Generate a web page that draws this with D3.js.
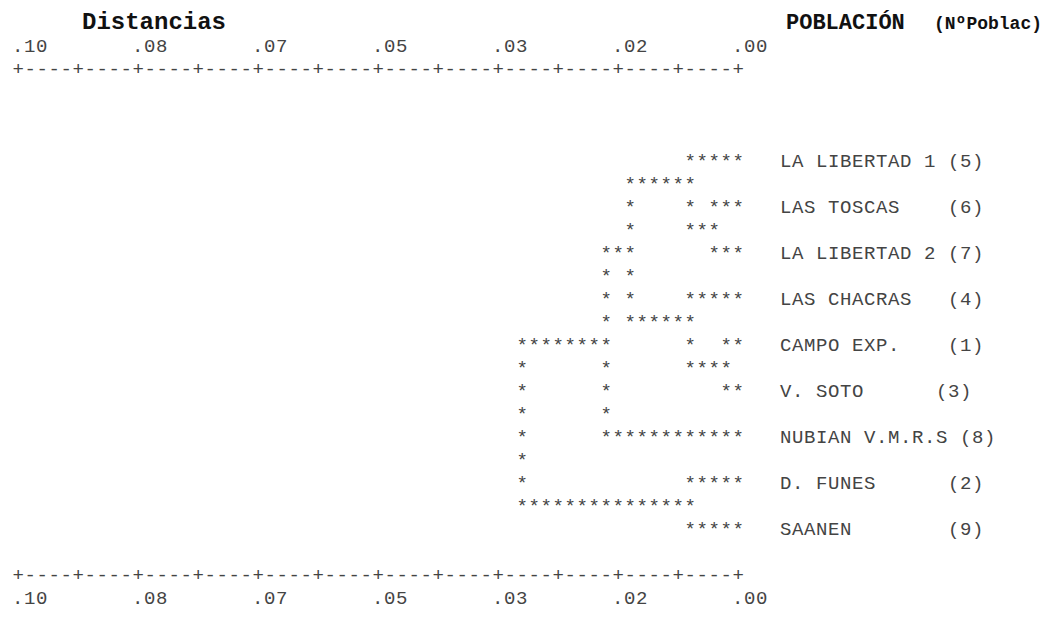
<!DOCTYPE html>
<html>
<head>
<meta charset="utf-8">
<script src="https://cdn.jsdelivr.net/npm/d3@7"></script>
<style>
  html, body { margin: 0; padding: 0; background: #fff; }
  svg { display: block; }
  text { font-family: "Liberation Mono", "Courier New", monospace; }
</style>
</head>
<body>
<svg id="chart" width="1047" height="624"></svg>
<script>
// Populations, top to bottom, as printed beside the tree
const poblaciones = [
  "LA LIBERTAD 1 (5)",
  "LAS TOSCAS    (6)",
  "LA LIBERTAD 2 (7)",
  "LAS CHACRAS   (4)",
  "CAMPO EXP.    (1)",
  "V. SOTO      (3)",
  "NUBIAN V.M.R.S (8)",
  "D. FUNES      (2)",
  "SAANEN        (9)"
];

// Agglomeration steps: nodes 0-8 are the populations above,
// each step creates node 9, 10, 11, ... joining unirA[k] with unirB[k]
const unirA     = [1, 4, 0, 3, 7, 11, 14, 15];
const unirB     = [2, 5, 9, 10, 8, 12, 6, 13];
const distancia = [0.003, 0.002, 0.007, 0.007, 0.007, 0.015, 0.018, 0.030];

// Distance scale ticks
const marcas          = [0.10, 0.083, 0.067, 0.05, 0.033, 0.017, 0.00];
const etiquetasMarcas = [".10", ".08", ".07", ".05", ".03", ".02", ".00"];

const svg = d3.select("#chart");

// Character grid: 61 columns for distance, one text line every 23px
const NCOL = 60;
const colDeDistancia = d3.scaleLinear().domain([0.10, 0]).range([0, NCOL]);
const xCol = d3.scaleLinear().domain([0, NCOL]).range([12, 12 + 12 * NCOL]);
const yLinea = d3.scaleLinear().domain([0, 1]).range([29, 52]);
const colEtiqueta = 64;
const lineaPrimera = 6;

const ink = "#444";
const fs = "19px";
const spacing = "0.6px"; // keeps the 12px character cell at 19px

// Titles
svg.append("text").attr("x", 82).attr("y", yLinea(0))
  .attr("font-size", "24px").attr("font-weight", "bold").attr("fill", "#111")
  .text("Distancias");
svg.append("text").attr("x", 786).attr("y", yLinea(0))
  .attr("font-size", "22px").attr("font-weight", "bold").attr("fill", "#111")
  .text("POBLACIÓN");
svg.append("text").attr("x", 934).attr("y", yLinea(0))
  .attr("font-size", "18px").attr("font-weight", "bold").attr("fill", "#111")
  .text("(NºPoblac)");

// Build the star tree on the character grid
const celdas = new Map();
const marcar = (l, c) => celdas.set(l + "," + c, { l, c });
const fila = [], inicio = [];
poblaciones.forEach((p, i) => { fila[i] = lineaPrimera + 2 * i; inicio[i] = NCOL; });

unirA.forEach((a, k) => {
  const b = unirB[k];
  const m = Math.round(colDeDistancia(distancia[k]));
  [a, b].forEach(n => { for (let c = m; c <= inicio[n]; c++) marcar(fila[n], c); });
  for (let l = fila[a]; l <= fila[b]; l++) marcar(l, m);
  const nuevo = poblaciones.length + k;
  fila[nuevo] = Math.floor((fila[a] + fila[b]) / 2);
  inicio[nuevo] = m;
});

svg.append("g").selectAll("text").data(Array.from(celdas.values())).join("text")
  .attr("x", d => xCol(d.c) + 0.5).attr("y", d => yLinea(d.l))
  .attr("font-size", fs).attr("fill", ink)
  .text("*");

// Population labels
svg.append("g").selectAll("text").data(poblaciones).join("text")
  .attr("x", xCol(colEtiqueta)).attr("y", (d, i) => yLinea(lineaPrimera + 2 * i))
  .attr("font-size", fs).attr("fill", ink).attr("letter-spacing", spacing)
  .attr("xml:space", "preserve").style("white-space", "pre")
  .text(d => d);

// Top and bottom distance rulers
const ultimaFila = lineaPrimera + 2 * (poblaciones.length - 1);
const reglas = [
  { regla: 2, marcas: 1 },
  { regla: ultimaFila + 2, marcas: ultimaFila + 3 }
];
reglas.forEach(r => {
  svg.append("g").selectAll("text").data(d3.range(0, NCOL + 1)).join("text")
    .attr("x", c => xCol(c) + 0.5).attr("y", yLinea(r.regla))
    .attr("font-size", fs).attr("fill", ink)
    .text(c => (c % 5 === 0 ? "+" : "-"));
  svg.append("g").selectAll("text").data(marcas).join("text")
    .attr("x", v => xCol(Math.round(colDeDistancia(v)))).attr("y", yLinea(r.marcas))
    .attr("font-size", fs).attr("fill", ink).attr("letter-spacing", spacing)
    .text((v, i) => etiquetasMarcas[i]);
});
</script>
</body>
</html>
